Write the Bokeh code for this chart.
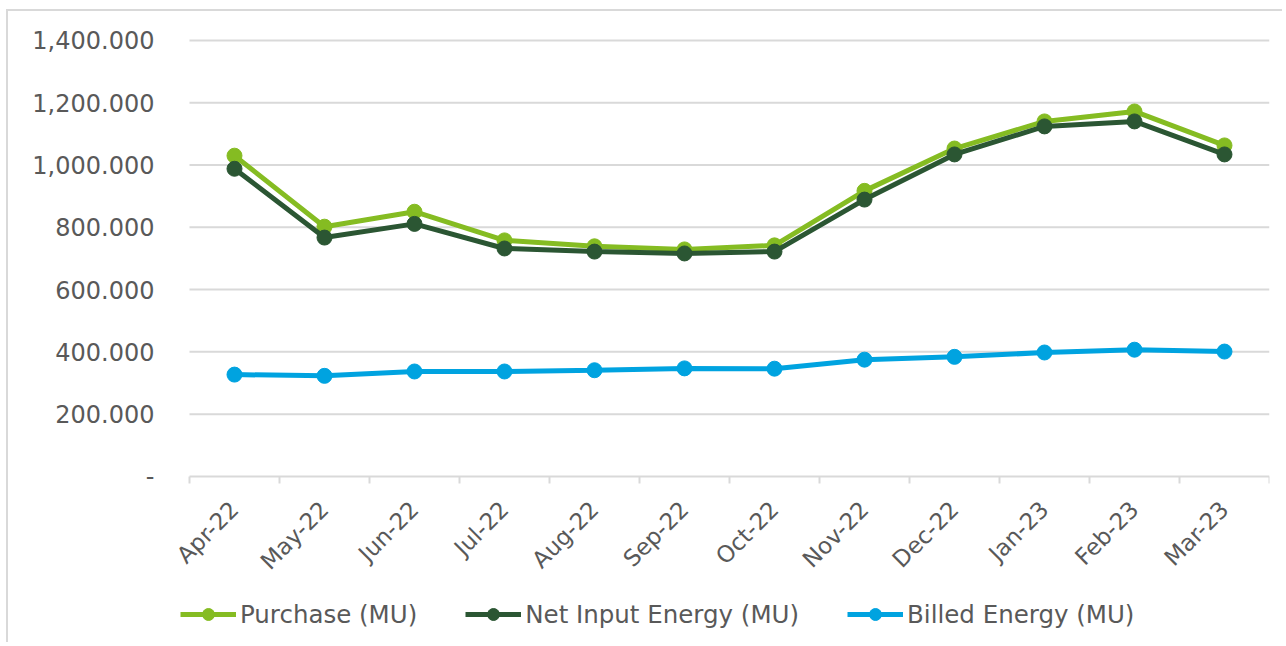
import math
from bokeh.plotting import figure
from bokeh.models import FixedTicker, Legend, LegendItem, Range1d
from bokeh.embed import file_html
from bokeh.resources import INLINE

months = ["Apr-22", "May-22", "Jun-22", "Jul-22", "Aug-22", "Sep-22",
          "Oct-22", "Nov-22", "Dec-22", "Jan-23", "Feb-23", "Mar-23"]
purchase = [1030, 802, 850, 758, 739, 729, 742, 917, 1053, 1140, 1172, 1063]
net_input = [988, 767, 811, 732, 722, 716, 722, 889, 1034, 1124, 1140, 1034]
billed = [327, 323, 337, 337, 341, 347, 346, 375, 384, 398, 407, 401]

y_ticks = [0, 200, 400, 600, 800, 1000, 1200, 1400]
y_labels = ["-", "200.000", "400.000", "600.000", "800.000",
            "1,000.000", "1,200.000", "1,400.000"]

FONT = "DejaVu Sans"
TXT = "#595959"
GRID = "#d9d9d9"
C_PUR = "#85bc22"
C_NET = "#2b5633"
C_BIL = "#00a3e0"

n = len(months)
x = list(range(n))
x_lo, x_hi = -0.5, n - 0.5

# the frame covers the whole canvas; axes are pinned inside it so nothing is clipped
p = figure(width=1276, height=633, output_backend="svg", toolbar_location=None,
           x_range=Range1d(-2.511, x_hi), y_range=Range1d(-514, 1493),
           min_border_left=0, min_border_right=15, min_border_top=0,
           min_border_bottom=8)
p.outline_line_color = None
p.styles = {"border-left": "2px solid #d9d9d9", "border-top": "2px solid #d9d9d9",
            "margin-left": "6px", "margin-top": "9px"}

# horizontal gridlines limited to the plot area
gy = y_ticks[1:]
p.segment(x0=[x_lo] * len(gy), x1=[x_hi] * len(gy), y0=gy, y1=gy,
          line_color=GRID, line_width=2)
p.xgrid.grid_line_color = None
p.ygrid.grid_line_color = None

# y axis
p.yaxis.fixed_location = x_lo
p.yaxis.ticker = FixedTicker(ticks=y_ticks, minor_ticks=[])
p.yaxis.major_label_overrides = {t: l for t, l in zip(y_ticks, y_labels)}
p.yaxis.axis_line_color = None
p.yaxis.major_tick_line_color = None
p.yaxis.minor_tick_line_color = None
p.yaxis.major_label_standoff = 29
p.yaxis.major_label_text_font = FONT
p.yaxis.major_label_text_font_size = "24px"
p.yaxis.major_label_text_color = TXT

# x axis
p.xaxis.fixed_location = 0
p.xaxis.bounds = (x_lo, x_hi)
p.xaxis.ticker = FixedTicker(ticks=x, minor_ticks=[i - 0.5 for i in range(n + 1)])
p.xaxis.major_label_overrides = {i: m for i, m in enumerate(months)}
p.xaxis.major_label_orientation = math.pi / 4
p.xaxis.axis_line_color = GRID
p.xaxis.axis_line_width = 2
p.xaxis.major_tick_line_color = None
p.xaxis.minor_tick_line_color = GRID
p.xaxis.minor_tick_line_width = 2
p.xaxis.minor_tick_in = 0
p.xaxis.minor_tick_out = 7
p.xaxis.major_label_standoff = 22
p.xaxis.major_label_text_font = FONT
p.xaxis.major_label_text_font_size = "23px"
p.xaxis.major_label_text_color = TXT

items = []
for name, ys, col in [("Purchase (MU)", purchase, C_PUR),
                      ("Net Input Energy (MU)", net_input, C_NET),
                      ("Billed Energy (MU)", billed, C_BIL)]:
    l = p.line(x, ys, line_color=col, line_width=5)
    s = p.scatter(x, ys, size=15, fill_color=col, line_color=col)
    items.append(LegendItem(label=name, renderers=[l, s]))

legend = Legend(items=items, orientation="horizontal", location=(172, 7),
                glyph_width=56, glyph_height=30, label_standoff=4, spacing=48,
                padding=0, margin=0, border_line_color=None,
                background_fill_alpha=0,
                label_text_font=FONT, label_text_font_size="24.5px",
                label_text_color=TXT)
p.add_layout(legend, "center")

open("out.html", "w").write(file_html(p, INLINE))
